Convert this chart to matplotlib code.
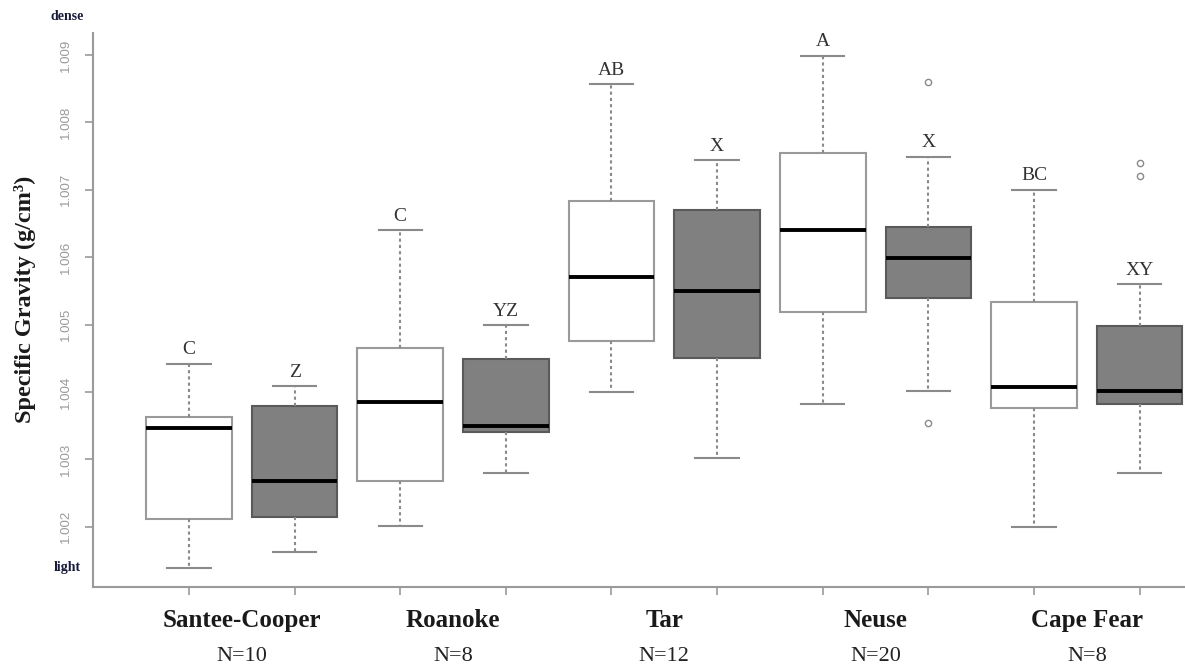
import numpy as np
import matplotlib
matplotlib.use('Agg')
import matplotlib.pyplot as plt

# rivers and sample sizes
rivers = ['Santee-Cooper', 'Roanoke', 'Tar', 'Neuse', 'Cape Fear']
n_labels = ['N=10', 'N=8', 'N=12', 'N=20', 'N=8']

# box statistics, two boxes per river (white then gray)
whislo = [1.00139, 1.00162, 1.00201, 1.00280, 1.00400, 1.00302, 1.00382, 1.00401, 1.00200, 1.00280]
q1     = [1.00212, 1.00215, 1.00268, 1.00341, 1.00475, 1.00450, 1.00519, 1.00540, 1.00377, 1.00382]
med    = [1.00346, 1.00268, 1.00385, 1.00350, 1.00570, 1.00550, 1.00640, 1.00599, 1.00407, 1.00402]
q3     = [1.00363, 1.00379, 1.00465, 1.00449, 1.00683, 1.00670, 1.00755, 1.00645, 1.00534, 1.00498]
whishi = [1.00442, 1.00409, 1.00640, 1.00499, 1.00857, 1.00744, 1.00899, 1.00749, 1.00700, 1.00560]
fliers = [[], [], [], [], [], [], [], [1.00860, 1.00354], [], [1.00739, 1.00720]]
letters = ['C', 'Z', 'C', 'YZ', 'AB', 'X', 'A', 'X', 'BC', 'XY']

yticks = [1.002, 1.003, 1.004, 1.005, 1.006, 1.007, 1.008, 1.009]


def main():
    fig = plt.figure(figsize=(11.85, 6.69), dpi=100)
    ax = fig.add_axes([93 / 1185, 1 - 587 / 669, 1 - 93 / 1185, (587 - 33) / 669])

    stats = []
    for i in range(len(med)):
        stats.append(dict(whislo=whislo[i], q1=q1[i], med=med[i], q3=q3[i],
                          whishi=whishi[i], fliers=fliers[i]))
    pos = np.arange(len(med))

    bp = ax.bxp(stats, positions=pos, widths=0.81, capwidths=0.41,
                patch_artist=True, manage_ticks=False,
                whiskerprops=dict(color='#8a8a8a', linestyle=(0, (1.5, 1.5)), linewidth=1.5),
                capprops=dict(color='#8a8a8a', linewidth=1.5),
                medianprops=dict(color='black', linewidth=2.8),
                flierprops=dict(marker='o', markersize=4.5, markerfacecolor='none',
                                markeredgecolor='#8a8a8a', markeredgewidth=1))
    for i, b in enumerate(bp['boxes']):
        if i % 2 == 0:
            b.set_facecolor('white')
            b.set_edgecolor('#9a9a9a')
        else:
            b.set_facecolor('#808080')
            b.set_edgecolor('#5a5a5a')
        b.set_linewidth(1.5)

    for i, t in enumerate(letters):
        ax.text(pos[i], whishi[i] + 0.00008, t, ha='center', va='bottom',
                family='Liberation Serif', fontsize=14, color='#333333')

    ax.set_xlim(-0.909, 9.43)
    ax.set_ylim(1.001107, 1.009326)

    ax.set_xticks(pos)
    ax.set_xticklabels([])
    ax.set_yticks(yticks)
    ax.set_yticklabels(['%.3f' % v for v in yticks], rotation=90, va='center',
                       family='Liberation Sans', fontsize=9.5, color='#9a9a9a')
    ax.tick_params(axis='both', color='#9a9a9a', length=6, width=1.2)
    ax.tick_params(axis='y', pad=9)

    for s in ['top', 'right']:
        ax.spines[s].set_visible(False)
    for s in ['left', 'bottom']:
        ax.spines[s].set_color('#9a9a9a')
        ax.spines[s].set_linewidth(1.5)

    for k in range(len(rivers)):
        xc = 2 * k + 0.5
        ax.text(xc, -0.06, rivers[k], transform=ax.get_xaxis_transform(),
                ha='center', va='center', family='Liberation Serif',
                fontweight='bold', fontsize=18, color='#1a1a1a')
        ax.text(xc, -0.126, n_labels[k], transform=ax.get_xaxis_transform(),
                ha='center', va='center', family='Liberation Serif',
                fontsize=16, color='#222222')

    fig.text(25 / 1185, 1 - 299 / 669, 'Specific Gravity (g/cm³)', rotation=90,
             ha='center', va='center', family='Liberation Serif',
             fontweight='bold', fontsize=17.5, color='#1a1a1a')
    fig.text(67 / 1185, 1 - 17 / 669, 'dense', ha='center', va='center',
             family='Liberation Serif', fontweight='bold', fontsize=10, color='#1a1a3a')
    fig.text(67 / 1185, 1 - 567 / 669, 'light', ha='center', va='center',
             family='Liberation Serif', fontweight='bold', fontsize=10, color='#1a1a3a')

    fig.savefig('out.png', dpi=100)


if __name__ == '__main__':
    main()
